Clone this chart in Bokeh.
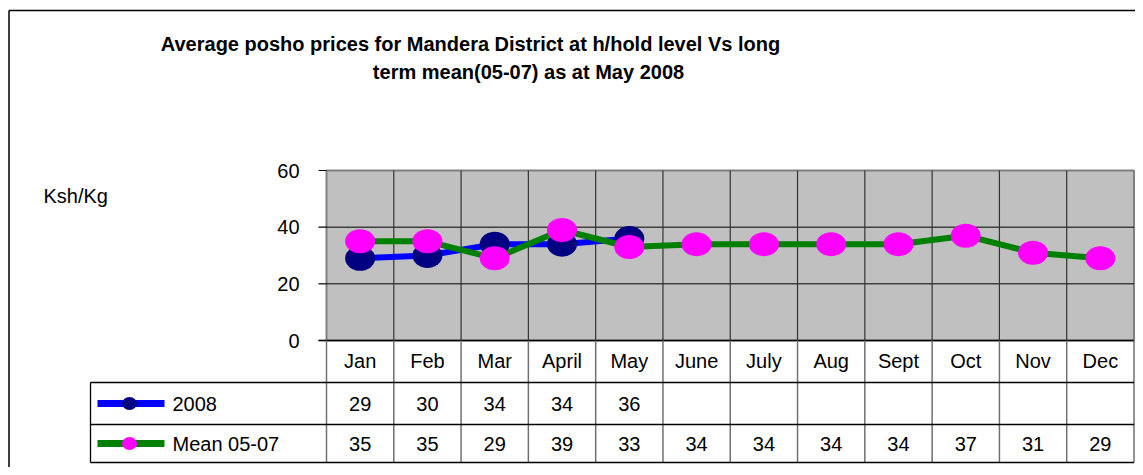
from bokeh.plotting import figure
from bokeh.models import Range1d
from bokeh.core.properties import value
from bokeh.embed import file_html
from bokeh.resources import INLINE

# ---------------- data ----------------
months = ["Jan", "Feb", "Mar", "April", "May", "June", "July", "Aug", "Sept", "Oct", "Nov", "Dec"]
prices_2008 = [29, 30, 34, 34, 36]
mean_05_07 = [35, 35, 29, 39, 33, 34, 34, 34, 34, 37, 31, 29]
series_names = ["2008", "Mean 05-07"]
y_ticks = [0, 20, 40, 60]
title_lines = ["Average posho prices for Mandera District at h/hold level Vs long",
               "term mean(05-07) as at May 2008"]
y_label = "Ksh/Kg"

# ---------------- layout helpers (screen px -> data units) ----------------
W, H = 1135, 467
PLOT_L, PLOT_R = 326.0, 1133.5
PLOT_T, PLOT_B = 170.0, 340.0
YMAX = 60.0
CW = (PLOT_R - PLOT_L) / len(months)
PY = (PLOT_B - PLOT_T) / YMAX


def dx(sx):
    return (sx - PLOT_L) / CW


def dy(sy):
    return (PLOT_B - sy) / PY


FONT = value("Liberation Sans")

p = figure(width=W, height=H,
           x_range=Range1d(dx(0), dx(W)), y_range=Range1d(dy(H), dy(0)),
           output_backend="svg", toolbar_location=None,
           x_axis_location=None, y_axis_location=None, min_border=0)
p.grid.visible = False
p.outline_line_color = None
p.background_fill_color = "white"
p.border_fill_color = "white"

# outer chart border (left & top visible)
p.segment(x0=[dx(8.5), dx(8.5)], y0=[dy(10), dy(10)], x1=[dx(8.5), dx(W + 5)], y1=[dy(H + 5), dy(10)],
          line_color="black", line_width=1.5)

# title
p.text(x=[dx(470), dx(528)], y=[dy(43), dy(71)], text=title_lines,
       text_font=FONT, text_font_size="20px", text_font_style="bold",
       text_align="center", text_baseline="middle", text_color="black")

# y label
p.text(x=[dx(43)], y=[dy(195)], text=[y_label], text_font=FONT, text_font_size="20px",
       text_align="left", text_baseline="middle", text_color="black")

n = len(months)
# plot area
p.quad(left=[0], right=[n], bottom=[0], top=[YMAX], fill_color="#C0C0C0",
       line_color="#808080", line_width=2)
# horizontal gridlines
inner_ticks = [t for t in y_ticks if 0 < t < YMAX]
p.segment(x0=[0] * len(inner_ticks), x1=[n] * len(inner_ticks), y0=inner_ticks, y1=inner_ticks,
          line_color="black", line_width=1)
# vertical category dividers in plot
p.segment(x0=list(range(1, n)), x1=list(range(1, n)), y0=[0] * (n - 1), y1=[YMAX] * (n - 1),
          line_color="#333333", line_width=1.2)
# x axis line
p.segment(x0=[dx(318)], x1=[n], y0=[0], y1=[0], line_color="black", line_width=1.5)
# y ticks
p.segment(x0=[dx(318)] * len(y_ticks), x1=[0] * len(y_ticks), y0=y_ticks, y1=y_ticks,
          line_color="black", line_width=1.2)
p.text(x=[dx(299)] * len(y_ticks), y=y_ticks, text=[str(t) for t in y_ticks],
       text_font=FONT, text_font_size="20px", text_align="right", text_baseline="middle",
       text_color="black")

# ---------------- data table ----------------
ROW_T, ROW1, ROW2, ROW_B = 340.0, 382.0, 424.0, 462.0
TABLE_L = 90.0
p.segment(x0=list(range(0, n + 1)), x1=list(range(0, n + 1)),
          y0=[dy(ROW_T)] * (n + 1), y1=[dy(ROW_B)] * (n + 1),
          line_color="#707070", line_width=1.5)
p.segment(x0=[dx(TABLE_L)] * 3, x1=[n] * 3, y0=[dy(ROW1), dy(ROW2), dy(ROW_B)],
          y1=[dy(ROW1), dy(ROW2), dy(ROW_B)], line_color="black", line_width=1.3)
p.segment(x0=[dx(TABLE_L)], x1=[dx(TABLE_L)], y0=[dy(ROW1)], y1=[dy(ROW_B)],
          line_color="black", line_width=1.3)

centers = [i + 0.5 for i in range(n)]
p.text(x=centers, y=[dy(360)] * n, text=months, text_font=FONT, text_font_size="20px",
       text_align="center", text_baseline="middle", text_color="black")
p.text(x=centers[:len(prices_2008)], y=[dy(403)] * len(prices_2008),
       text=[str(v) for v in prices_2008], text_font=FONT, text_font_size="20px",
       text_align="center", text_baseline="middle", text_color="black")
p.text(x=centers, y=[dy(443)] * n, text=[str(v) for v in mean_05_07], text_font=FONT,
       text_font_size="20px", text_align="center", text_baseline="middle", text_color="black")

# legend keys inside the table
styles = [("#0000FF", "#000080", 403), ("#008000", "#FF00FF", 443)]
for name, (lc, mc, ry) in zip(series_names, styles):
    p.line(x=[dx(97), dx(164)], y=[dy(ry), dy(ry)], line_color=lc, line_width=7)
    p.ellipse(x=[dx(129)], y=[dy(ry)], width=15, height=13, width_units="screen",
              height_units="screen", fill_color=mc, line_color=None)
    p.text(x=[dx(172)], y=[dy(ry)], text=[name], text_font=FONT, text_font_size="20px",
           text_align="left", text_baseline="middle", text_color="black")

# ---------------- series ----------------
x08 = centers[:len(prices_2008)]
p.line(x=x08, y=prices_2008, line_color="#0000FF", line_width=6)
p.ellipse(x=x08, y=prices_2008, width=30, height=25, width_units="screen", height_units="screen",
          fill_color="#000080", line_color=None)
p.line(x=centers, y=mean_05_07, line_color="#008000", line_width=6)
p.ellipse(x=centers, y=mean_05_07, width=30, height=24, width_units="screen", height_units="screen",
          fill_color="#FF00FF", line_color=None)

open("out.html", "w").write(file_html(p, INLINE))
